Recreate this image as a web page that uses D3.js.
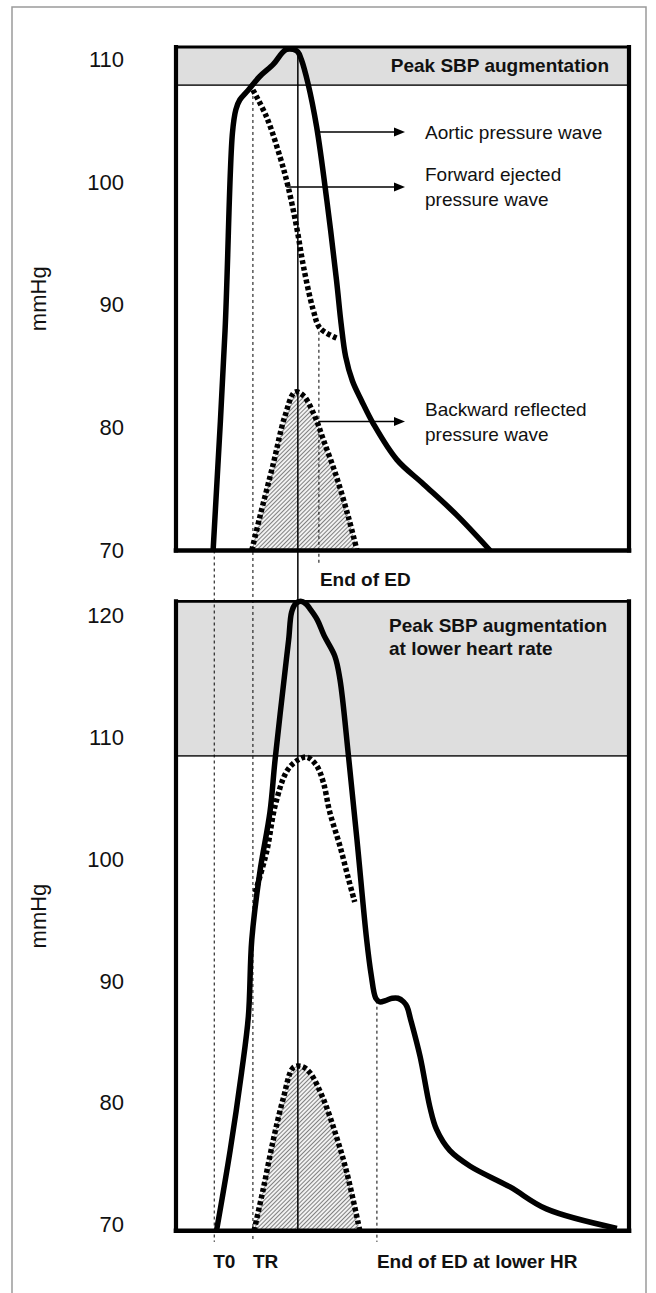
<!DOCTYPE html>
<html>
<head>
<meta charset="utf-8">
<script src="https://cdn.jsdelivr.net/npm/d3@7"></script>
<style>
  body { margin: 0; background: #fff; }
  svg { display: block; font-family: "Liberation Sans", Arial, sans-serif; }
</style>
</head>
<body>
<svg id="chart"></svg>
<script>
// time in ms (T0 ~ 0), pressure in mmHg
const topAortic = [[-3,70],[18,87.9],[31,104],[37,105.9],[44,106.7],[59,107.5],[79,108.6],[103,109.6],[118,110.5],[126,110.8],[138,110.8],[146,110.6],[152,110],[164,108],[179,104.5],[197,98.5],[214,92],[222,88.5],[230,85.8],[242,83.8],[258,82.2],[279,80.3],[320,77.4],[367,75.4],[425,72.9],[484,70]];
const topForward = [[67,107.5],[91,105.3],[115,102],[129,99.6],[144,96.3],[156,93.1],[173,89.6],[185,88.1],[214,87.3]];
const topReflected = [[65,70],[79,72.7],[103,77.1],[123,80.9],[141,82.9],[156,82.6],[176,80.9],[191,79],[214,76],[235,72.7],[250,70]];

const botAortic = [[3,69.5],[27,76.1],[47,82.5],[59,87.1],[65,93.4],[79,98.9],[97,103.9],[106,108.2],[126,116.5],[130,118.1],[135,120.3],[142,121],[151,121.2],[160,121],[167,120.6],[180,119.7],[192,118.4],[211,116.7],[220,114.8],[235,108.5],[250,101.6],[267,93.4],[275,90.5],[283,88.6],[290,88.3],[300,88.4],[312,88.6],[322,88.6],[332,88.3],[338,87.9],[344,86.9],[361,83.8],[378,79.7],[390,77.8],[413,76.1],[449,74.8],[519,73.1],[583,71.3],[707,69.7]];
const botForward = [[71,97.3],[91,100.6],[106,104.4],[126,107.2],[144,108.1],[162,108.4],[179,107.7],[191,106.3],[202,103.9],[220,101.1],[235,98.4],[246,96.5]];
const botReflected = [[69,69.5],[85,72.9],[103,77],[120,80.3],[138,82.9],[153,83],[167,82.5],[191,80.3],[214,77.2],[232,74.3],[255,69.5]];

const topTicks = [70, 80, 90, 100, 110];
const botTicks = [70, 80, 90, 100, 110, 120];
const topBand = [107.9, 111];
const botBand = [108.5, 121.2];

const tT0 = -1, tTR = 67, tPeak = 146, tEndED = 183, tEndEDLow = 285;

const W = 656, H = 1293;
const svg = d3.select("#chart").attr("width", W).attr("height", H);

const x = d3.scaleLinear().domain([-70, 730]).range([175, 630]);
const yTop = d3.scaleLinear().domain([70, 111]).range([550.5, 47]);
const yBot = d3.scaleLinear().domain([69.5, 121.2]).range([1230.8, 601.3]);

const xl = x.range()[0] + 1, xr = x.range()[1] - 1;

// outer frame
svg.append("rect")
    .attr("x", 12).attr("y", 7).attr("width", 634).attr("height", 1310)
    .attr("fill", "none").attr("stroke", "#9a9a9a").attr("stroke-width", 1.5);

// hatch pattern for reflected wave
const defs = svg.append("defs");
const pat = defs.append("pattern")
    .attr("id", "hatch").attr("patternUnits", "userSpaceOnUse")
    .attr("width", 3).attr("height", 3)
    .attr("patternTransform", "rotate(45)");
pat.append("rect").attr("width", 3).attr("height", 3).attr("fill", "#f2f2f2");
pat.append("line").attr("x1", 0.5).attr("y1", 0).attr("x2", 0.5).attr("y2", 3)
    .attr("stroke", "#808080").attr("stroke-width", 1);

const layerBack = svg.append("g");
const layerGuides = svg.append("g");
const layerWaves = svg.append("g");
const layerFrame = svg.append("g");
const layerText = svg.append("g");

const smooth = d3.curveCatmullRom.alpha(0.5);

function drawPanel(y, ticks, band, aortic, forward, reflected) {
    const y0 = y.range()[0], y1 = y.range()[1];

    // gray band
    layerBack.append("rect")
        .attr("x", xl).attr("width", xr - xl)
        .attr("y", y(band[1])).attr("height", y(band[0]) - y(band[1]))
        .attr("fill", "#dedede");
    layerBack.append("line")
        .attr("x1", xl).attr("x2", xr)
        .attr("y1", y(band[0])).attr("y2", y(band[0]))
        .attr("stroke", "#333").attr("stroke-width", 1.8);

    // y axis labels
    const ax = layerText.append("g")
        .attr("transform", `translate(${xl},0)`)
        .call(d3.axisLeft(y).tickValues(ticks).tickSize(0).tickPadding(52).tickFormat(d3.format("d")));
    ax.select(".domain").remove();
    ax.selectAll("text")
        .style("font-size", "22px")
        .style("font-family", "'Liberation Sans', Arial, sans-serif")
        .attr("fill", "#111");

    // mmHg
    layerText.append("text")
        .attr("transform", `translate(46,${(y0 + y1) / 2}) rotate(-90)`)
        .attr("text-anchor", "middle")
        .style("font-size", "22px")
        .attr("fill", "#111")
        .text("mmHg");

    const line = d3.line().x(d => x(d[0])).y(d => y(d[1])).curve(smooth);
    const area = d3.area().x(d => x(d[0])).y0(y0).y1(d => y(d[1])).curve(smooth);

    layerBack.append("path").attr("d", area(reflected)).attr("fill", "url(#hatch)");

    layerWaves.append("path").attr("d", line(reflected))
        .attr("fill", "none").attr("stroke", "#000").attr("stroke-width", 5.5)
        .attr("stroke-dasharray", "4,2.6");
    layerWaves.append("path").attr("d", line(forward))
        .attr("fill", "none").attr("stroke", "#000").attr("stroke-width", 5.5)
        .attr("stroke-dasharray", "4,2.6");
    layerWaves.append("path").attr("d", line(aortic))
        .attr("fill", "none").attr("stroke", "#000").attr("stroke-width", 5.5)
        .attr("stroke-linejoin", "round");

    // panel frame
    const f = layerFrame.append("g").attr("stroke", "#000").attr("stroke-linecap", "square");
    f.append("line").attr("x1", xl).attr("x2", xr).attr("y1", y1).attr("y2", y1).attr("stroke-width", 2.8);
    f.append("line").attr("x1", xl).attr("x2", xl).attr("y1", y1).attr("y2", y0).attr("stroke-width", 4.2);
    f.append("line").attr("x1", xr).attr("x2", xr).attr("y1", y1).attr("y2", y0).attr("stroke-width", 4.2);
    f.append("line").attr("x1", xl).attr("x2", xr).attr("y1", y0).attr("y2", y0).attr("stroke-width", 4.6);
}

drawPanel(yTop, topTicks, topBand, topAortic, topForward, topReflected);
drawPanel(yBot, botTicks, botBand, botAortic, botForward, botReflected);

// vertical guide lines
function vline(t, ya, yb, dashed, w) {
    layerGuides.append("line")
        .attr("x1", x(t)).attr("x2", x(t))
        .attr("y1", ya).attr("y2", yb)
        .attr("stroke", "#000")
        .attr("stroke-width", w)
        .attr("stroke-dasharray", dashed ? "3,3" : null);
}
vline(tT0, yTop(70), yBot(69.5) + 11, true, 1);
vline(tTR, yTop(107.5), yBot(69.5) + 11, true, 1);
vline(tEndED, yTop(88.3), yTop(70) + 14, true, 1);
vline(tEndEDLow, yBot(88.4), yBot(69.5) + 11, true, 1);
vline(tPeak, yTop(110.6), yBot(69.5), false, 1.5);

// arrows with labels
function arrow(t0, v, label1, label2) {
    const ya = yTop(v);
    const xa = x(t0), xb = 405;
    layerText.append("line").attr("x1", xa).attr("x2", xb - 8).attr("y1", ya).attr("y2", ya)
        .attr("stroke", "#000").attr("stroke-width", 1.6);
    layerText.append("path")
        .attr("d", `M${xb},${ya} L${xb - 11},${ya - 4.5} L${xb - 11},${ya + 4.5} Z`)
        .attr("fill", "#000");
    const tx = layerText.append("text").attr("x", 425).style("font-size", "19px").attr("fill", "#111");
    if (label2) {
        tx.append("tspan").attr("x", 425).attr("y", ya - 6).text(label1);
        tx.append("tspan").attr("x", 425).attr("y", ya + 19).text(label2);
    } else {
        tx.attr("y", ya + 7).text(label1);
    }
}
arrow(185, 104.08, "Aortic pressure wave");
arrow(126, 99.6, "Forward ejected", "pressure wave");
arrow(182, 80.5, "Backward reflected", "pressure wave");

// bold annotations
function bold(xp, yp, txt, anchor) {
    layerText.append("text").attr("x", xp).attr("y", yp)
        .attr("text-anchor", anchor || "start")
        .style("font-size", "19px").style("font-weight", "bold")
        .attr("fill", "#111").text(txt);
}
bold(609, 72, "Peak SBP augmentation", "end");
bold(x(tEndED) + 1, 586, "End of ED");
bold(389, 632, "Peak SBP augmentation");
bold(389, 655, "at lower heart rate");
bold(x(tT0) - 1, 1268, "T0");
bold(x(tTR), 1268, "TR");
bold(x(tEndEDLow), 1268, "End of ED at lower HR");
</script>
</body>
</html>
